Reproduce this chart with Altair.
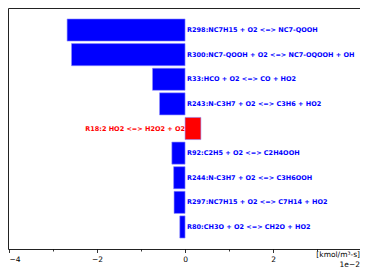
import altair as alt
import pandas as pd

names = [
    "R298:NC7H15 + O2 <=> NC7-QOOH",
    "R300:NC7-QOOH + O2 <=> NC7-OQOOH + OH",
    "R33:HCO + O2 <=> CO + HO2",
    "R243:N-C3H7 + O2 <=> C3H6 + HO2",
    "R18:2 HO2 <=> H2O2 + O2",
    "R92:C2H5 + O2 <=> C2H4OOH",
    "R244:N-C3H7 + O2 <=> C3H6OOH",
    "R297:NC7H15 + O2 <=> C7H14 + HO2",
    "R80:CH3O + O2 <=> CH2O + HO2",
]
values = [-2.68, -2.58, -0.74, -0.58, 0.36, -0.30, -0.26, -0.25, -0.12]  # x 1e-2
tick_values = [-4, -3, -2, -1, 0, 1, 2, 3]

df = pd.DataFrame({"name": names, "value": values})
df["color"] = ["#ff0000" if v > 0 else "#0000ff" for v in values]

FONT = "DejaVu Sans"

xscale = alt.Scale(domain=[-4.023, 3.975], nice=False, zero=False)
yenc = alt.Y("name:N", sort=names, axis=None,
             scale=alt.Scale(paddingInner=0.1, paddingOuter=0.445))

bars = alt.Chart(df).mark_bar(stroke="#8f8fff", strokeWidth=0.6).encode(
    x=alt.X("value:Q", scale=xscale, title=None,
            axis=alt.Axis(values=tick_values, domain=False, grid=False,
                          tickColor="black", tickWidth=0.8,
                          tickSize={"condition": {"test": "abs(datum.value) % 2 == 0", "value": 3.5}, "value": 2},
                          labelExpr="abs(datum.value) % 2 == 0 ? datum.label : ''",
                          labelAlign={"condition": {"test": "datum.value == -4", "value": "left"}, "value": "center"},
                          labelFont=FONT, labelFontSize=7.5, labelColor="black",
                          labelPadding=3)),
    x2=alt.datum(0),
    y=yenc,
    color=alt.Color("color:N", scale=None),
)

neg_text = alt.Chart(df).transform_filter("datum.value <= 0").mark_text(
    align="left", baseline="middle", dx=2, font=FONT, fontSize=6.5, fontWeight="bold"
).encode(
    x=alt.datum(0), y=yenc, text="name:N", color=alt.Color("color:N", scale=None)
)

pos_text = alt.Chart(df).transform_filter("datum.value > 0").mark_text(
    align="right", baseline="middle", dx=0, font=FONT, fontSize=6.5, fontWeight="bold"
).encode(
    x=alt.datum(0), y=yenc, text="name:N", color=alt.Color("color:N", scale=None)
)

unit = alt.Chart(pd.DataFrame({"t": ["[kmol/m³-s]"]})).mark_text(
    align="right", baseline="middle", font=FONT, fontSize=7.5, color="black"
).encode(x=alt.value(352), y=alt.value(247), text="t:N")

exp = alt.Chart(pd.DataFrame({"t": ["1e\u22122"]})).mark_text(
    align="right", baseline="middle", font=FONT, fontSize=7.5, color="black"
).encode(x=alt.value(352), y=alt.value(257), text="t:N")

chart = alt.layer(bars, neg_text, pos_text, unit, exp).properties(
    width=352, height=241,
    autosize=alt.AutoSizeParams(type="none"),
    padding={"left": 0, "top": 0, "right": 0, "bottom": 25},
).configure_view(stroke="#222", strokeWidth=1)

chart.save("out.html", embed_options={"renderer": "svg", "actions": False})
